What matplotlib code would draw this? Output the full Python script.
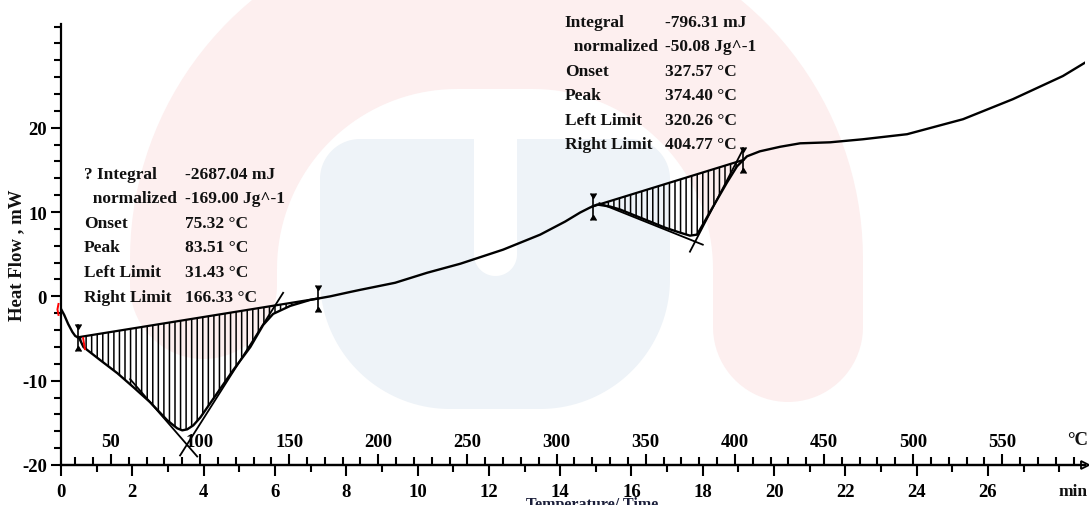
import numpy as np
import matplotlib
matplotlib.use("Agg")
import matplotlib.pyplot as plt
from matplotlib.path import Path
from matplotlib.patches import PathPatch
from matplotlib.transforms import Affine2D
from matplotlib.ticker import FixedLocator, NullFormatter

# ---------------- DSC trace: time (min) / heat flow (mW) ----------------
time_min = np.array([
    0.00, 0.09, 0.20, 0.32, 0.40, 0.51, 0.63, 1.10, 1.58, 2.03, 2.50, 2.98,
    3.26, 3.40, 3.54, 3.71, 3.91, 4.38, 4.83, 5.31, 5.67, 5.95, 6.43, 6.99,
    7.55, 8.11, 8.39, 9.37, 10.27, 11.20, 12.40, 13.44, 14.14, 14.56, 14.84,
    15.04, 15.40, 15.68, 16.10, 16.52, 16.94, 17.36, 17.64, 17.84, 18.29,
    18.68, 18.96, 19.24, 19.60, 20.17, 20.73, 21.57, 22.49, 23.73, 25.30,
    26.70, 28.10, 28.80])
heat_flow = np.array([
    -1.49, -2.20, -3.27, -4.23, -4.70, -4.94, -6.01, -7.56, -9.11, -10.77,
    -12.56, -14.70, -15.65, -15.89, -15.77, -15.30, -14.35, -11.49, -8.75,
    -6.01, -3.39, -2.08, -1.13, -0.42, 0.00, 0.52, 0.77, 1.61, 2.80, 3.87,
    5.54, 7.32, 8.87, 9.94, 10.54, 10.89, 10.65, 10.30, 9.58, 8.87, 8.15,
    7.56, 7.20, 7.32, 10.65, 13.51, 15.42, 16.61, 17.20, 17.74, 18.15,
    18.27, 18.63, 19.23, 21.01, 23.39, 26.13, 27.92])

# temperature programme: T = T_START + HEAT_RATE * t
T_START = 22.0    # °C
HEAT_RATE = 20.0  # K/min

# integration limits (°C)
peak1_limits = [31.43, 166.33]
peak2_limits = [320.26, 404.77]

# evaluation tangents (time min, heat flow mW)
peak1_left_tangent_t = [1.94, 3.82]
peak1_left_tangent_v = [-9.82, -18.99]
peak1_right_tangent_t = [3.34, 6.23]
peak1_right_tangent_v = [-18.87, 0.42]
peak2_low_tangent_t = [15.10, 18.00]
peak2_low_tangent_v = [11.05, 6.13]
peak2_steep_tangent_t = [17.64, 19.13]
peak2_steep_tangent_v = [5.30, 17.44]

peak1_labels = ["? Integral", "  normalized", "Onset", "Peak", "Left Limit", "Right Limit"]
peak1_values = ["-2687.04 mJ", "-169.00 Jg^-1", "75.32 °C", "83.51 °C", "31.43 °C", "166.33 °C"]
peak2_labels = ["Integral", "  normalized", "Onset", "Peak", "Left Limit", "Right Limit"]
peak2_values = ["-796.31 mJ", "-50.08 Jg^-1", "327.57 °C", "374.40 °C", "320.26 °C", "404.77 °C"]

time_major = np.arange(0, 27, 2)
time_minor = np.arange(1, 29, 1)
temp_major = np.arange(50, 551, 50)
temp_minor = np.arange(30, 600, 10)
flow_major = [-20, -10, 0, 10, 20]
flow_minor = np.arange(-20, 33, 2)

W, H = 1089, 506
SERIF = ["Liberation Serif", "DejaVu Serif"]
plt.rcParams["hatch.linewidth"] = 1.1
plt.rcParams["axes.unicode_minus"] = False

fig = plt.figure(figsize=(W / 100, H / 100), dpi=100)
fig.patch.set_facecolor("white")

# ---------------- faint logo in the background ----------------
px = Affine2D().scale(1 / W, -1 / H).translate(0, 1) + fig.transFigure


def arc(cx, cy, r, a0, a1, n=40):
    a = np.radians(np.linspace(a0, a1, n))
    return np.column_stack([cx + r * np.cos(a), cy - r * np.sin(a)])


def shape(parts, color, z):
    pts = np.vstack(parts)
    patch = PathPatch(Path(np.vstack([pts, pts[:1]]), closed=True),
                      facecolor=color, edgecolor="none", transform=px, zorder=z)
    fig.add_artist(patch)


shape([np.array([[130, 286.5]]), arc(466, 260, 336, 180, 90),
       arc(527, 260, 336, 90, 0), np.array([[863, 328]]),
       arc(788, 328, 75, 0, -180), arc(533, 270, 180, 0, 90),
       arc(457, 270, 180, 90, 180), arc(203.5, 286.5, 73.5, 0, -180)],
      "#fdefef", -12)
shape([arc(360, 180, 40, 180, 90), arc(630, 180, 40, 90, 0),
       arc(540, 280, 130, 0, -90), arc(450, 280, 130, -90, -180)],
      "#eef3f8", -11)
shape([np.array([[474, 140], [517, 140]]), arc(495.5, 255.5, 21.5, 0, -180)],
      "white", -10)

# ---------------- axes ----------------
ax = fig.add_axes([61 / W, 40 / H, 1024 / W, 441 / H])
ax.set_facecolor("none")
ax.set_xlim(0, 28.72)
ax.set_ylim(-20, 32.3)
for s in ("top", "right"):
    ax.spines[s].set_visible(False)
for s in ("left", "bottom"):
    ax.spines[s].set_linewidth(1.6)

ax.set_yticks(flow_major)
ax.yaxis.set_minor_locator(FixedLocator(flow_minor))
ax.set_xticks(time_major)
ax.xaxis.set_minor_locator(FixedLocator(time_minor))
ax.xaxis.set_minor_formatter(NullFormatter())
ax.tick_params(axis="y", which="major", direction="out", length=7, width=1.5, pad=3)
ax.tick_params(axis="y", which="minor", direction="out", length=5, width=1.5)
ax.tick_params(axis="x", which="major", direction="out", length=8, width=1.5, pad=5)
ax.tick_params(axis="x", which="minor", direction="out", length=5, width=1.5)
for lab in ax.get_xticklabels() + ax.get_yticklabels():
    lab.set_fontfamily(SERIF)
    lab.set_fontweight("bold")
    lab.set_fontsize(13.5)


def t_to_T(t):
    return T_START + HEAT_RATE * np.asarray(t)


def T_to_t(T):
    return (np.asarray(T) - T_START) / HEAT_RATE


sec = ax.secondary_xaxis(0.0, functions=(t_to_T, T_to_t))
sec.set_alignment("top")
sec.set_xticks(temp_major)
sec.xaxis.set_minor_locator(FixedLocator(temp_minor))
sec.xaxis.set_minor_formatter(NullFormatter())
sec.tick_params(axis="x", which="major", direction="out", length=8, width=1.5, pad=3)
sec.tick_params(axis="x", which="minor", direction="out", length=5.5, width=1.5)
sec.spines["top"].set_linewidth(1.6)
for lab in sec.get_xticklabels():
    lab.set_fontfamily(SERIF)
    lab.set_fontweight("bold")
    lab.set_fontsize(13.5)

ax.plot([1.0], [0.0], marker=">", ms=6, mfc="none", mec="k", mew=1.3,
        transform=ax.transAxes, clip_on=False)

txt = dict(fontfamily=SERIF, fontweight="bold", color="#111111")
ax.text(0.993, 0.057, "°C", transform=ax.transAxes, ha="center", va="center", fontsize=13.5, **txt)
ax.text(0.988, -0.059, "min", transform=ax.transAxes, ha="center", va="center", fontsize=12.5, **txt)
ax.text(-0.043, 0.478, "Heat Flow , mW", transform=ax.transAxes, rotation=90,
        ha="center", va="center", fontsize=13.5, **txt)
ax.text(0.5186, -0.0703, "Temperature/ Time", transform=ax.transAxes, ha="center",
        va="top", fontsize=11.5, fontfamily=SERIF, fontweight="bold", color="#1b1f3a")

# ---------------- curve, baselines and hatched peak areas ----------------
ax.plot(time_min, heat_flow, color="black", lw=1.7, zorder=5)

for lims in (peak1_limits, peak2_limits):
    ta, tb = T_to_t(lims[0]), T_to_t(lims[1])
    va, vb = np.interp([ta, tb], time_min, heat_flow)
    tt = np.linspace(ta, tb, 300)
    curve = np.interp(tt, time_min, heat_flow)
    base = np.interp(tt, [ta, tb], [va, vb])
    ax.fill_between(tt, curve, base, facecolor="none", edgecolor="black",
                    hatch="|||", linewidth=0, zorder=3)
    ax.plot([ta, tb], [va, vb], color="black", lw=1.6, zorder=5)
    for t0, v0 in ((ta, va), (tb, vb)):
        ax.plot([t0, t0], [v0 - 1.4, v0 + 1.4], color="black", lw=1.2, zorder=6)
        ax.plot([t0], [v0 + 1.0], marker=7, ms=4.5, color="black", zorder=6)
        ax.plot([t0], [v0 - 1.0], marker=6, ms=4.5, color="black", zorder=6)

for tx, vx in ((peak1_left_tangent_t, peak1_left_tangent_v),
               (peak1_right_tangent_t, peak1_right_tangent_v),
               (peak2_low_tangent_t, peak2_low_tangent_v),
               (peak2_steep_tangent_t, peak2_steep_tangent_v)):
    ax.plot(tx, vx, color="black", lw=1.3, zorder=4)

# red range markers of the first effect
ax.plot([-0.07, -0.10, -0.07], [-0.9, -1.55, -2.2], color="red", lw=1.4,
        clip_on=False, zorder=6)
ax.plot([0.62, 0.67], [-4.95, -6.25], color="red", lw=1.4, zorder=6)

# ---------------- evaluation results ----------------
def result_block(x0, x1, y0, labels, values):
    for i, (l, v) in enumerate(zip(labels, values)):
        y = y0 - i * 0.0556
        ax.text(x0, y, l, transform=ax.transAxes, ha="left", va="center",
                fontsize=12.5, **txt)
        ax.text(x1, y, v, transform=ax.transAxes, ha="left", va="center",
                fontsize=12.5, **txt)


result_block(0.0225, 0.121, 0.660, peak1_labels, peak1_values)
result_block(0.492, 0.590, 1.005, peak2_labels, peak2_values)

fig.savefig("out.png", dpi=100)
